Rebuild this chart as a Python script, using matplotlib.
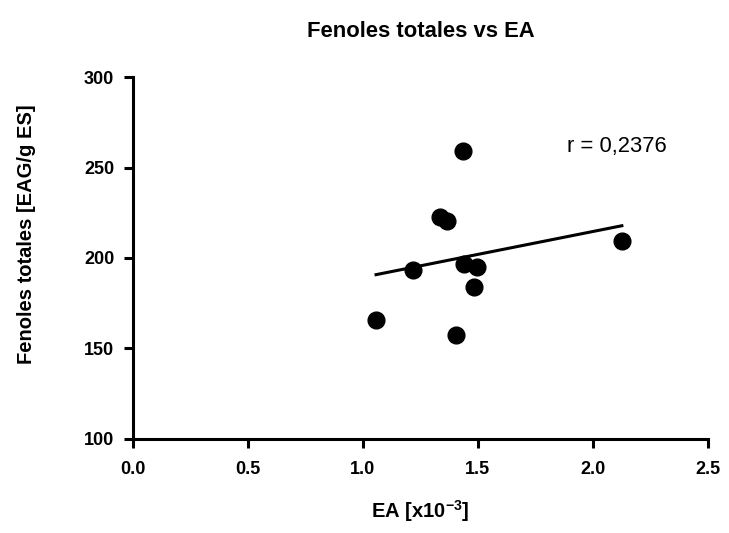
import numpy as np
import matplotlib
matplotlib.use("Agg")
import matplotlib.pyplot as plt

# data
ea = [1.435, 1.335, 1.365, 2.126, 1.217, 1.439, 1.496, 1.483, 1.057, 1.404]
fenoles = [259.0, 222.6, 220.4, 209.4, 193.4, 196.7, 195.0, 184.0, 165.7, 157.5]
r_text = "r = 0,2376"
x_ticks = [0.0, 0.5, 1.0, 1.5, 2.0, 2.5]
y_ticks = [100, 150, 200, 250, 300]

plt.rcParams["font.family"] = ["Liberation Sans", "DejaVu Sans"]
plt.rcParams["mathtext.fontset"] = "custom"
plt.rcParams["mathtext.bf"] = "Liberation Sans:bold"
plt.rcParams["mathtext.rm"] = "Liberation Sans"

fig = plt.figure(figsize=(7.29, 5.33), dpi=100)
ax = fig.add_axes([0.1824, 0.1764, 0.971 - 0.1824, 0.8555 - 0.1764])

x = np.array(ea)
y = np.array(fenoles)
ax.scatter(x, y, s=145, color="black", zorder=3, clip_on=False)

# linear fit over the data range
slope, intercept = np.polyfit(x, y, 1)
xl = np.array([x.min(), x.max()])
ax.plot(xl, slope * xl + intercept, color="black", lw=2.2, zorder=2)

ax.text(1.887, 258.6, r_text, fontsize=15.8, va="baseline", ha="left", clip_on=False)

ax.set_xlim(0, 2.5)
ax.set_ylim(100, 300)
ax.set_xticks(x_ticks)
ax.set_yticks(y_ticks)
ax.set_xticklabels([f"{t:.1f}" for t in x_ticks])
ax.set_yticklabels([str(t) for t in y_ticks])

for side in ("top", "right"):
    ax.spines[side].set_visible(False)
for side in ("left", "bottom"):
    ax.spines[side].set_linewidth(2.2)
ax.tick_params(width=2.2, length=6.5, labelsize=13)
ax.tick_params(axis="x", pad=9)
ax.tick_params(axis="y", pad=7)
for lbl in ax.get_xticklabels() + ax.get_yticklabels():
    lbl.set_fontweight("bold")

ax.set_title("Fenoles totales vs EA", fontsize=15.8, fontweight="bold", pad=29)
ax.set_xlabel(r"EA [x10$^{\mathbf{-3}}$]", fontsize=14.5, fontweight="bold", labelpad=15)
ax.set_ylabel("Fenoles totales [EAG/g ES]", fontsize=14.5, fontweight="bold")
ax.yaxis.set_label_coords(-0.169, 0.566)

fig.savefig("out.png", dpi=100)
